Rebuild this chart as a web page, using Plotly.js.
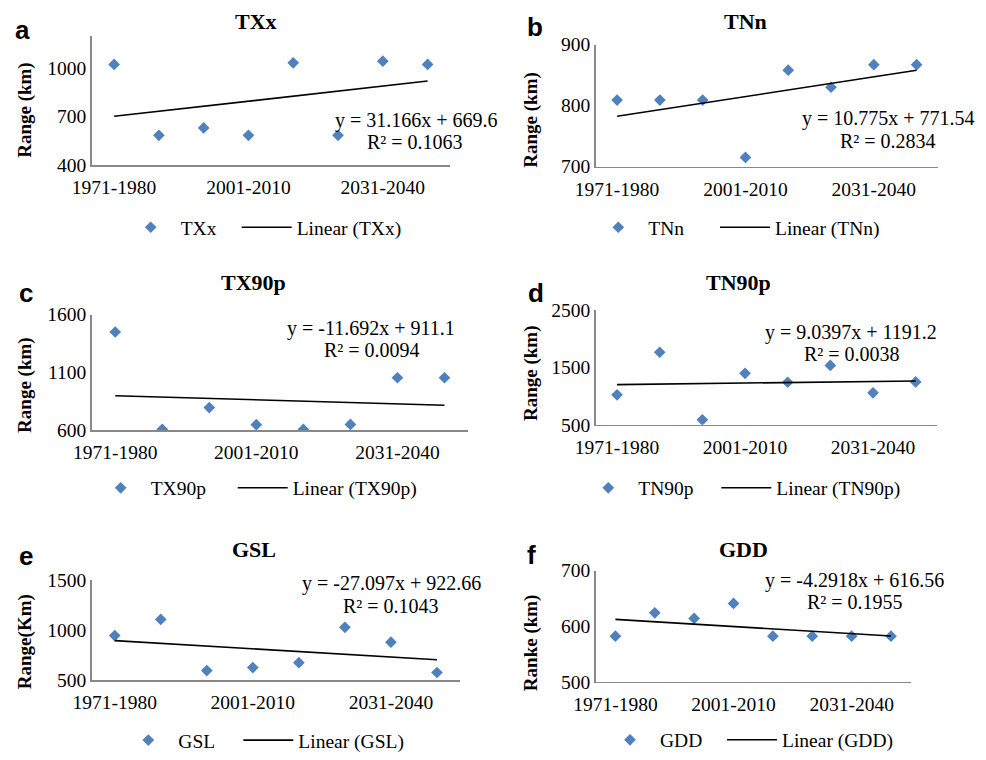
<!DOCTYPE html>
<html><head><meta charset="utf-8">
<script src="https://cdn.plot.ly/plotly-3.0.1.min.js"></script>
<style>html,body{margin:0;padding:0;background:#fff}#chart{width:986px;height:760px}</style>
</head><body><div id="chart"></div>
<script>
// ---------- data ----------
const categories = ['1971-1980','1981-1990','1991-2000','2001-2010','2011-2020','2021-2030','2031-2040','2041-2050'];
const tickLabels = ['1971-1980','2001-2010','2031-2040'];
const panelNames = ['TXx','TNn','TX90p','TN90p','GSL','GDD'];
const panelLetters = ['a','b','c','d','e','f'];
const yTitles = ['Range (km)','Range (km)','Range (km)','Range (km)','Range(Km)','Ranke (km)'];
const TXx   = [1022, 583, 629, 583, 1032, 583, 1042, 1022];
const TNn   = [809, 809, 809, 715, 858, 830, 867, 867];
const TX90p = [1450, 610, 797, 650, 609, 652, 1055, 1055];
const TN90p = [1022, 1764, 586, 1397, 1241, 1534, 1057, 1247];
const GSL   = [946, 1107, 598, 628, 677, 1028, 880, 579];
const GDD   = [582, 624, 614, 641, 582, 582, 582, 582];
const slopes     = [31.166, 10.775, -11.692, 9.0397, -27.097, -4.2918];
const intercepts = [669.6, 771.54, 911.1, 1191.2, 922.66, 616.56];
const rSquared   = ['0.1063','0.2834','0.0094','0.0038','0.1043','0.1955'];
const yTickVals = [[400,700,1000],[700,800,900],[600,1100,1600],[500,1500,2500],[500,1000,1500],[500,600,700]];
const seriesList = [TXx, TNn, TX90p, TN90p, GSL, GDD];

// ---------- layout geometry (pixels) ----------
const W = 986, H = 760;
const yRanges = [[400,1200],[700,900],[600,1600],[500,2500],[500,1500],[500,700]];
const geom = [
  {x0:91.7, x1:450,   y0:36,    y1:166.7},
  {x0:595.7,x1:938,   y0:45,    y1:168.3},
  {x0:91.7, x1:468,   y0:318,   y1:435},
  {x0:595.7,x1:937,   y0:313.3, y1:429.3},
  {x0:91.7, x1:460,   y0:586,   y1:687.7},
  {x0:595.7,x1:910.7, y0:576.7, y1:689}
];
const titlePos  = [[256,22],[745,22],[253,286],[738,286],[254,555],[743,555]];
const letterPos = [[22.5,30],[535,27],[25.5,296],[536,296],[25.5,562],[531,561]];
const yTitlePos = [[25,111],[531,121],[25,389],[531,377],[25,649],[531,650]];
const eq1Pos = [[333,122],[800,120],[285,331.7],[763,335.7],[300,590],[763,587]];
const eq2Pos = [[365,144],[838,142],[322,354],[802,358],[341,612],[805,608]];
const legPos = [[120.7,230,51],[588.3,230,61.7],[90.7,493.3,77],[578.3,493.3,73],[118.3,748.3,55],[600,748,57]];

const px = x => x / W;
const py = y => 1 - y / H;
const serif = 'Liberation Serif';
const blue = '#4F81BD';

const xIdx = categories.map((c, i) => i + 1);
const tickVals = tickLabels.map(t => categories.indexOf(t) + 1);

const traces = [];
const layout = {
  width: W, height: H,
  margin: {l:0, r:0, t:0, b:0},
  paper_bgcolor: '#fff', plot_bgcolor: '#fff',
  showlegend: true,
  annotations: []
};

const fmt = v => (v < 0 ? '-' + Math.abs(v) : '' + v);

for (let i = 0; i < 6; i++) {
  const n = i === 0 ? '' : String(i + 1);
  const xa = 'x' + n, ya = 'y' + n;
  const legName = 'legend' + n;
  const g = geom[i];
  const vals = seriesList[i];
  const lp = legPos[i];
  traces.push({
    type: 'scatter', mode: 'markers', name: panelNames[i],
    x: xIdx, y: vals, xaxis: xa, yaxis: ya, legend: legName,
    legendwidth: lp[2],
    marker: {symbol: 'diamond', size: 9, color: blue},
    hoverinfo: 'skip'
  });
  const xEnds = [xIdx[0], xIdx[xIdx.length - 1]];
  traces.push({
    type: 'scatter', mode: 'lines', name: 'Linear (' + panelNames[i] + ')',
    x: xEnds, y: xEnds.map(x => slopes[i] * x + intercepts[i]),
    xaxis: xa, yaxis: ya, legend: legName,
    line: {color: '#000', width: 1.6},
    hoverinfo: 'skip'
  });
  layout['xaxis' + n] = {
    domain: [px(g.x0), px(g.x1)], anchor: ya,
    range: [0.5, categories.length + 0.5],
    tickmode: 'array', tickvals: tickVals, ticktext: tickLabels,
    showline: true, linecolor: '#888888', linewidth: 1.6,
    ticks: '', showgrid: false, zeroline: false, ticklabelstandoff: 4,
    tickfont: {family: serif, size: 19.5, color: '#000'}
  };
  layout['yaxis' + n] = {
    domain: [py(g.y1), py(g.y0)], anchor: xa,
    range: yRanges[i],
    tickmode: 'array', tickvals: yTickVals[i],
    showline: true, linecolor: '#888888', linewidth: 1.6,
    ticks: '', showgrid: false, zeroline: false,
    tickfont: {family: serif, size: 19.5, color: '#000'}
  };
  layout[legName] = {
    orientation: 'h', x: px(lp[0]), xanchor: 'left', y: py(lp[1]), yanchor: 'middle',
    font: {family: serif, size: 19.5, color: '#000'},
    bgcolor: 'rgba(0,0,0,0)', itemwidth: 50,
    traceorder: 'normal'
  };
  const A = layout.annotations;
  A.push({xref:'paper', yref:'paper', x: px(titlePos[i][0]), y: py(titlePos[i][1]),
    xanchor:'center', yanchor:'middle', showarrow:false,
    text: '<b>' + panelNames[i] + '</b>', font:{family: serif, size: 22, color:'#000'}});
  A.push({xref:'paper', yref:'paper', x: px(letterPos[i][0]), y: py(letterPos[i][1]),
    xanchor:'center', yanchor:'middle', showarrow:false,
    text: '<b>' + panelLetters[i] + '</b>', font:{family:'Liberation Sans', size: 26, color:'#000'}});
  A.push({xref:'paper', yref:'paper', x: px(yTitlePos[i][0]), y: py(yTitlePos[i][1]),
    xanchor:'center', yanchor:'middle', showarrow:false, textangle: -90,
    text: '<b>' + yTitles[i] + '</b>', font:{family: serif, size: 19, color:'#000'}});
  A.push({xref:'paper', yref:'paper', x: px(eq1Pos[i][0]), y: py(eq1Pos[i][1]),
    xanchor:'left', yanchor:'middle', showarrow:false,
    text: 'y = ' + fmt(slopes[i]) + 'x + ' + intercepts[i], font:{family: serif, size: 20, color:'#000'}});
  A.push({xref:'paper', yref:'paper', x: px(eq2Pos[i][0]), y: py(eq2Pos[i][1]),
    xanchor:'left', yanchor:'middle', showarrow:false,
    text: 'R² = ' + rSquared[i], font:{family: serif, size: 20, color:'#000'}});
}

Plotly.newPlot('chart', traces, layout, {displayModeBar: false, staticPlot: true});
</script></body></html>
